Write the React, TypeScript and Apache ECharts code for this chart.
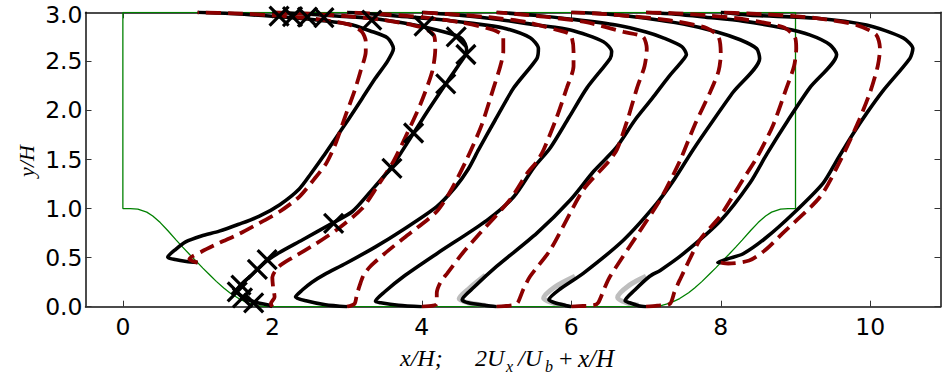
import React, { useEffect, useRef } from "react";
import * as echarts from "echarts";

// ---- data (x = 2U/Ub + x_station, y = y/H) ----
const xTicks = [0, 2, 4, 6, 8, 10];
const topYTickLabel = "3.0";

const geometry: number[][] = [
  [0, 3], [0, 1], [0.1, 1.0], [0.2, 0.994], [0.32, 0.964], [0.4, 0.925], [0.5, 0.857], [0.6, 0.776],
  [0.714, 0.679], [0.8, 0.607], [0.893, 0.532], [1.0, 0.449], [1.07, 0.393], [1.15, 0.333], [1.25, 0.258],
  [1.35, 0.19], [1.43, 0.142], [1.55, 0.083], [1.68, 0.037], [1.8, 0.011], [1.93, 0], [7.07, 0],
  [7.2, 0.011], [7.32, 0.037], [7.45, 0.083], [7.57, 0.142], [7.65, 0.19], [7.75, 0.258], [7.85, 0.333],
  [7.93, 0.393], [8.0, 0.449], [8.107, 0.532], [8.2, 0.607], [8.286, 0.679], [8.4, 0.776], [8.5, 0.857],
  [8.6, 0.925], [8.68, 0.964], [8.8, 0.994], [8.9, 1.0], [9, 1], [9, 3], [0, 3],
];

const black1 = [[1.0,0.45],[0.85,0.46],[0.7,0.48],[0.6,0.505],[0.7,0.58],[0.84,0.66],[1.05,0.72],[1.29,0.77],[1.55,0.84],[1.82,0.92],[2.1,1.04],[2.36,1.2],[2.52,1.36],[2.68,1.53],[2.85,1.72],[3.02,1.91],[3.2,2.12],[3.38,2.33],[3.54,2.5],[3.62,2.63],[3.54,2.74],[3.31,2.81],[3.02,2.88],[2.5,2.93],[2.0,2.96],[1.5,2.985],[1.0,3.0]];
const black2 = [[2.0,0.0],[1.96,0.015],[1.8,0.04],[1.65,0.08],[1.52,0.16],[1.6,0.24],[1.69,0.3],[1.8,0.38],[1.93,0.47],[2.09,0.55],[2.4,0.68],[2.8,0.85],[3.07,0.97],[3.31,1.17],[3.6,1.43],[3.89,1.77],[4.1,2.02],[4.32,2.27],[4.5,2.47],[4.6,2.6],[4.58,2.68],[4.5,2.75],[4.2,2.82],[3.76,2.89],[3.31,2.94],[2.8,2.965],[2.4,2.985],[2.0,3.0]];
const black3 = [[3.0,0.0],[2.71,0.02],[2.45,0.06],[2.31,0.1],[2.4,0.17],[2.53,0.25],[2.7,0.33],[2.98,0.44],[3.38,0.61],[3.76,0.79],[4.2,1.02],[4.45,1.22],[4.62,1.4],[4.76,1.6],[4.98,1.9],[5.23,2.23],[5.54,2.53],[5.56,2.63],[5.45,2.74],[5.09,2.84],[4.65,2.89],[4.2,2.93],[3.7,2.96],[3.3,2.985],[3.0,3.0]];
const black4 = [[4.0,0.0],[3.69,0.015],[3.45,0.04],[3.38,0.055],[3.5,0.15],[3.76,0.31],[4.2,0.54],[4.87,0.88],[5.23,1.12],[5.5,1.42],[5.72,1.62],[5.97,1.93],[6.21,2.23],[6.52,2.53],[6.54,2.6],[6.43,2.7],[5.99,2.82],[5.54,2.87],[5.0,2.93],[4.5,2.97],[4.0,3.0]];
const black5 = [[5.0,0.0],[4.87,0.012],[4.62,0.04],[4.54,0.07],[4.7,0.2],[5.0,0.41],[5.54,0.75],[5.99,1.09],[6.3,1.38],[6.6,1.62],[6.85,1.9],[7.08,2.12],[7.3,2.34],[7.48,2.5],[7.54,2.57],[7.48,2.65],[7.23,2.74],[7.0,2.8],[6.6,2.87],[6.0,2.93],[5.5,2.97],[5.0,3.0]];
const black6 = [[6.0,0.0],[5.94,0.01],[5.78,0.04],[5.7,0.07],[5.85,0.18],[6.16,0.34],[6.7,0.68],[7.14,1.05],[7.38,1.3],[7.63,1.6],[7.9,1.9],[8.17,2.19],[8.52,2.53],[8.48,2.63],[8.26,2.72],[7.95,2.8],[7.5,2.88],[7.0,2.94],[6.5,2.98],[6.0,3.0]];
const black7 = [[7.0,0.0],[6.9,0.01],[6.78,0.04],[6.72,0.06],[6.85,0.17],[7.05,0.31],[7.19,0.37],[7.5,0.54],[7.99,0.87],[8.39,1.26],[8.62,1.56],[8.9,1.9],[9.19,2.23],[9.55,2.57],[9.46,2.67],[9.19,2.77],[8.83,2.84],[8.3,2.91],[7.8,2.95],[7.4,2.98],[7.0,3.0]];
const black8 = [[8.0,0.449],[7.96,0.45],[8.1,0.49],[8.3,0.54],[8.6,0.7],[8.97,0.95],[9.37,1.26],[9.56,1.5],[9.76,1.75],[9.96,1.98],[10.17,2.2],[10.53,2.53],[10.57,2.63],[10.44,2.74],[9.95,2.87],[9.28,2.94],[8.39,2.97],[8.0,3.0]];

const red1 = [[1.0,0.45],[0.93,0.465],[0.89,0.485],[1.05,0.56],[1.29,0.65],[1.55,0.74],[1.82,0.85],[2.1,0.97],[2.36,1.12],[2.56,1.3],[2.72,1.46],[2.84,1.65],[2.98,1.95],[3.1,2.2],[3.18,2.4],[3.25,2.6],[3.25,2.7],[3.2,2.8],[3.05,2.87],[2.6,2.93],[2.0,2.97],[1.5,2.99],[1.0,3.0]];
const red2 = [[2.0,0.0],[1.98,0.03],[2.03,0.1],[2.01,0.2],[2.0,0.3],[2.09,0.41],[2.27,0.5],[2.58,0.64],[2.89,0.8],[3.2,1.0],[3.4,1.22],[3.62,1.48],[3.8,1.76],[3.98,2.06],[4.14,2.4],[4.18,2.63],[4.16,2.77],[3.98,2.85],[3.5,2.92],[3.0,2.96],[2.5,2.985],[2.0,3.0]];
const red3 = [[3.0,0.0],[3.1,0.03],[3.13,0.12],[3.17,0.22],[3.22,0.32],[3.31,0.41],[3.5,0.54],[3.76,0.7],[4.2,0.97],[4.4,1.2],[4.6,1.5],[4.8,1.85],[4.96,2.23],[5.05,2.45],[5.09,2.6],[5.09,2.75],[4.96,2.82],[4.5,2.9],[4.0,2.95],[3.5,2.98],[3.0,3.0]];
const red4 = [[4.0,0.0],[4.15,0.01],[4.2,0.03],[4.2,0.14],[4.25,0.25],[4.34,0.34],[4.55,0.55],[4.78,0.75],[5.18,1.09],[5.4,1.35],[5.54,1.48],[5.63,1.6],[5.8,1.92],[5.94,2.23],[6.03,2.45],[6.03,2.6],[5.99,2.77],[5.81,2.82],[5.4,2.9],[4.9,2.95],[4.4,2.98],[4.0,3.0]];
const red5 = [[5.0,0.0],[5.1,0.005],[5.25,0.02],[5.29,0.05],[5.36,0.18],[5.45,0.31],[5.72,0.58],[6.16,1.19],[6.5,1.48],[6.61,1.6],[6.75,1.9],[6.88,2.23],[6.98,2.45],[7.01,2.63],[6.96,2.75],[6.7,2.8],[6.2,2.9],[5.7,2.95],[5.3,2.98],[5.0,3.0]];
const red6 = [[6.0,0.0],[6.1,0.005],[6.3,0.015],[6.36,0.04],[6.45,0.2],[6.52,0.31],[6.96,0.82],[7.19,1.09],[7.45,1.48],[7.65,1.85],[7.86,2.19],[7.97,2.4],[8.0,2.57],[7.97,2.75],[7.81,2.84],[7.3,2.92],[6.8,2.96],[6.4,2.985],[6.0,3.0]];
const red7 = [[7.0,0.0],[7.15,0.01],[7.32,0.03],[7.38,0.15],[7.45,0.27],[7.72,0.68],[7.99,0.92],[8.3,1.3],[8.49,1.53],[8.7,1.85],[8.88,2.23],[8.98,2.45],[9.01,2.63],[8.99,2.75],[8.83,2.85],[8.3,2.93],[7.8,2.97],[7.4,2.99],[7.0,3.0]];
const red8 = [[8.0,0.449],[8.1,0.44],[8.38,0.47],[8.6,0.58],[8.83,0.75],[9.33,1.12],[9.62,1.52],[9.85,1.9],[10.0,2.19],[10.1,2.45],[10.13,2.63],[10.08,2.77],[9.82,2.87],[9.28,2.94],[8.6,2.98],[8.0,3.0]];

const grey5 = [[4.85,0.012],[4.62,0.04],[4.5,0.08],[4.64,0.19],[4.85,0.32]];
const grey6 = [[5.92,0.012],[5.75,0.04],[5.63,0.085],[5.78,0.2],[6.05,0.31]];
const grey7 = [[6.9,0.015],[6.74,0.04],[6.62,0.095],[6.78,0.22],[7.0,0.31]];

const markers2 = [[1.75,0.04],[1.6,0.09],[1.53,0.15],[1.58,0.22],[1.8,0.38],[1.93,0.48],[2.82,0.85],[3.6,1.41],[3.89,1.77],[4.32,2.27],[4.59,2.57],[4.46,2.75],[4.03,2.86],[3.33,2.92],[2.69,2.945],[2.47,2.95],[2.27,2.955],[2.09,2.96]];

const blackProfiles = [black1, black2, black3, black4, black5, black6, black7, black8];
const redProfiles = [red1, red2, red3, red4, red5, red6, red7, red8];
const greyProfiles = [grey5, grey6, grey7];

const mathFont = "'Liberation Serif', 'Times New Roman', serif";
const tickFont = "'DejaVu Sans', sans-serif";

export default function App() {
  const ref = useRef<HTMLDivElement>(null);
  useEffect(() => {
    if (!ref.current) return;
    const chart = echarts.init(ref.current, null, { renderer: "svg" });
    const axisCommon = {
      type: "value" as const,
      splitLine: { show: false },
      axisLine: { show: true, onZero: false, lineStyle: { color: "#111", width: 1.5 } },
    };
    const series: any[] = [];
    series.push({
      type: "line", data: geometry, showSymbol: false, z: 1,
      lineStyle: { color: "#008000", width: 1.3 },
    });
    greyProfiles.forEach((d) =>
      series.push({
        type: "line", data: d, showSymbol: false, smooth: 0.3, z: 2,
        lineStyle: { color: "rgba(110,110,110,0.45)", width: 5 },
      })
    );
    blackProfiles.forEach((d) =>
      series.push({
        type: "line", data: d, showSymbol: false, smooth: 0.25, z: 3,
        lineStyle: { color: "#000", width: 3.6, join: "round" },
      })
    );
    redProfiles.forEach((d) =>
      series.push({
        type: "line", data: d, showSymbol: false, smooth: 0.25, z: 4,
        lineStyle: { color: "#8b0000", width: 3.8, type: [15, 7], cap: "butt" },
      })
    );
    series.push({
      type: "scatter", data: markers2, z: 5,
      symbol: "path://M0,0L10,10M10,0L0,10", symbolSize: 19,
      itemStyle: { color: "none", borderColor: "#000", borderWidth: 3.2, opacity: 1 },
    });

    const tickLabel = { color: "#000", fontSize: 23.5, fontFamily: tickFont };

    chart.setOption({
      animation: false,
      backgroundColor: "#fff",
      grid: { left: 85.5, right: 1.5, top: 12.3, bottom: 70.3, containLabel: false, outerBoundsMode: "none" },
      xAxis: [
        {
          ...axisCommon, position: "bottom", min: -0.5, max: 10.94,
          axisTick: { show: true, inside: true, length: 6, customValues: xTicks, lineStyle: { color: "#333", width: 1 } },
          axisLabel: { show: true, customValues: xTicks, margin: 8, ...tickLabel },
        },
        {
          ...axisCommon, position: "top", min: -0.5, max: 10.94,
          axisTick: { show: true, inside: true, length: 6, customValues: xTicks, lineStyle: { color: "#333", width: 1 } },
          axisLabel: { show: false },
        },
      ],
      yAxis: [
        {
          ...axisCommon, position: "left", min: 0, max: 3, interval: 0.5,
          axisTick: { show: true, inside: true, length: 6, lineStyle: { color: "#333", width: 1 } },
          axisLabel: { show: true, showMaxLabel: false, margin: 3, ...tickLabel, formatter: (v: number) => v.toFixed(1) },
        },
        {
          ...axisCommon, position: "right", min: 0, max: 3, interval: 0.5,
          axisTick: { show: true, inside: true, length: 6, lineStyle: { color: "#333", width: 1 } },
          axisLabel: { show: false },
        },
      ],
      graphic: [
        { type: "text", x: 82.5, y: 15, style: { text: topYTickLabel, font: `23.5px ${tickFont}`, fill: "#000", align: "right", verticalAlign: "middle" } },
        { type: "text", x: 26, y: 161, rotation: Math.PI / 2, style: { text: "y/H", font: `italic 22px ${mathFont}`, fill: "#000", align: "center", verticalAlign: "middle" } },
        { type: "text", x: 400, y: 358, style: { text: "x/H;", font: `italic 24px ${mathFont}`, fill: "#000", align: "left", verticalAlign: "middle" } },
        { type: "text", x: 475, y: 358, style: { text: "2U", font: `italic 24px ${mathFont}`, fill: "#000", align: "left", verticalAlign: "middle" } },
        { type: "text", x: 506, y: 366, style: { text: "x", font: `italic 16px ${mathFont}`, fill: "#000", align: "left", verticalAlign: "middle" } },
        { type: "text", x: 518, y: 358, style: { text: "/U", font: `italic 24px ${mathFont}`, fill: "#000", align: "left", verticalAlign: "middle" } },
        { type: "text", x: 545, y: 366, style: { text: "b", font: `italic 16px ${mathFont}`, fill: "#000", align: "left", verticalAlign: "middle" } },
        { type: "text", x: 559, y: 358, style: { text: "+", font: `24px ${mathFont}`, fill: "#000", align: "left", verticalAlign: "middle" } },
        { type: "text", x: 578, y: 358, style: { text: "x/H", font: `italic 25px ${mathFont}`, fill: "#000", align: "left", verticalAlign: "middle" } },
      ],
      series,
    });
    return () => chart.dispose();
  }, []);
  return <div ref={ref} style={{ position: "fixed", left: 0, top: 0, width: 942, height: 377, background: "#fff" }} />;
}
